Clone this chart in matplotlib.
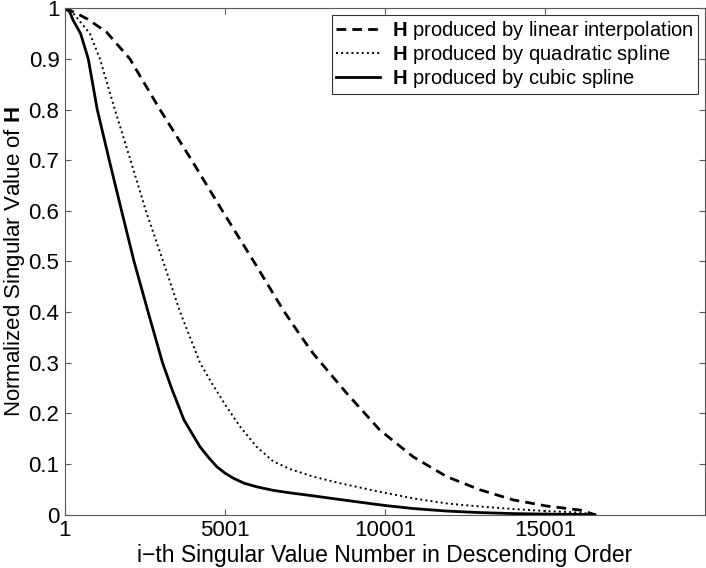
import matplotlib
matplotlib.use('Agg')
import matplotlib.pyplot as plt

plt.rcParams['font.family'] = ['Liberation Sans', 'DejaVu Sans']
plt.rcParams['mathtext.fontset'] = 'custom'
plt.rcParams['mathtext.rm'] = 'Liberation Sans'
plt.rcParams['mathtext.bf'] = 'Liberation Sans:bold'

# values
lin_x = [1, 300, 700, 1300, 2030, 2970, 3960, 4920, 5900, 6820, 7345, 7760,
         8800, 9840, 10885, 11930, 12970, 14010, 15050, 16095, 16560]
lin_y = [1.0, 0.992, 0.979, 0.953, 0.9, 0.8, 0.7, 0.6, 0.5, 0.404, 0.355, 0.318,
         0.240, 0.167, 0.114, 0.075, 0.049, 0.029, 0.017, 0.009, 0.0]

quad_x = [1, 200, 470, 780, 1095, 1560, 2050, 2530, 3070, 3600, 4220, 4585,
          5050, 5470, 5990, 6510, 7030, 7760, 8595, 9840, 10885, 11930,
          12970, 14010, 15050, 16095, 16560]
quad_y = [1.0, 0.995, 0.974, 0.95, 0.9, 0.8, 0.7, 0.6, 0.5, 0.4, 0.3, 0.26,
          0.213, 0.174, 0.134, 0.105, 0.090, 0.075, 0.062, 0.045, 0.032, 0.022,
          0.016, 0.011, 0.007, 0.004, 0.0]

cub_x = [1, 150, 260, 490, 730, 1010, 1385, 1770, 2160, 2600, 3050, 3330,
         3720, 4220, 4500, 4740, 5000, 5260, 5600, 5990, 6500, 7030, 7760,
         8800, 10001, 10885, 11930, 12970, 14010, 15050, 16560]
cub_y = [1.0, 0.993, 0.976, 0.95, 0.9, 0.8, 0.7, 0.6, 0.5, 0.4, 0.3, 0.25,
         0.187, 0.134, 0.112, 0.095, 0.082, 0.072, 0.062, 0.055, 0.048, 0.043,
         0.037, 0.028, 0.018, 0.012, 0.007, 0.004, 0.002, 0.001, 0.0]

x_ticks = [1, 5001, 10001, 15001]
y_ticks = [0, 0.1, 0.2, 0.3, 0.4, 0.5, 0.6, 0.7, 0.8, 0.9, 1]
y_tick_labels = ['0', '0.1', '0.2', '0.3', '0.4', '0.5', '0.6', '0.7', '0.8', '0.9', '1']

fig = plt.figure(figsize=(7.06, 5.68), dpi=100)
ax = fig.add_axes([0.092, 0.094, 0.9066, 0.8914])

ax.plot(lin_x, lin_y, color='black', lw=2, dashes=(3.5, 2.2),
        label=r'$\mathbf{H}$ produced by linear interpolation')
ax.plot(quad_x, quad_y, color='black', lw=1.4, linestyle=':',
        label=r'$\mathbf{H}$ produced by quadratic spline')
ax.plot(cub_x, cub_y, color='black', lw=2,
        label=r'$\mathbf{H}$ produced by cubic spline')

ax.set_xlim(1, 20001)
ax.set_ylim(0, 1)
ax.set_xticks(x_ticks)
ax.set_xticklabels([str(v) for v in x_ticks])
ax.set_yticks(y_ticks)
ax.set_yticklabels(y_tick_labels)
ax.tick_params(direction='in', length=4, width=0.8, color='0.35',
               labelsize=16, top=True, right=True, pad=4)
for s in ax.spines.values():
    s.set_color('0.35')
    s.set_linewidth(0.8)

ax.set_xlabel('i\u2212th Singular Value Number in Descending Order', fontsize=16.5, labelpad=2)
ax.set_ylabel(r'Normalized Singular Value of $\mathbf{H}$', fontsize=16)
ax.yaxis.set_label_coords(-0.06, 0.5)

leg = ax.legend(loc='upper right', fontsize=14.5, frameon=True, fancybox=False,
                edgecolor='black', handlelength=2.2, handletextpad=0.6,
                borderaxespad=0.35, labelspacing=0.05, borderpad=0.2)
leg.get_frame().set_linewidth(0.8)

fig.savefig('out.png', dpi=100)
